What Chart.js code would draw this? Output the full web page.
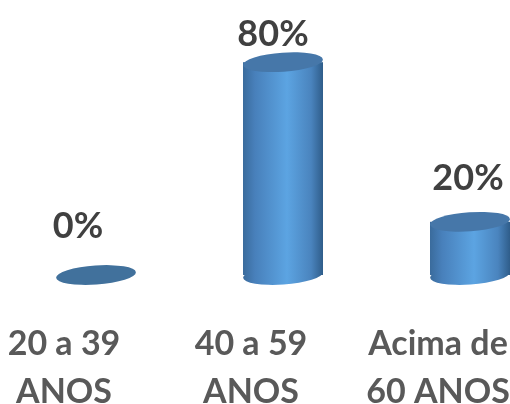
<!DOCTYPE html>
<html>
<head>
<meta charset="utf-8">
<script src="https://cdn.jsdelivr.net/npm/chart.js@4"></script>
<style>
  html, body { margin: 0; padding: 0; background: #fff; }
  #wrap { width: 510px; height: 404px; position: relative; }
</style>
</head>
<body>
<div id="wrap"><canvas id="c"></canvas></div>
<script>
const categories = [['20 a 39', 'ANOS'], ['40 a 59', 'ANOS'], ['Acima de', '60 ANOS']];
const values = [0, 80, 20];
const valueLabels = ['0%', '80%', '20%'];

const FONT = 'Lato';

// draws each bar as a 3D cylinder, plus the value above it
const cylinders = {
    id: 'cylinders',
    afterDatasetsDraw(chart) {
        const ctx = chart.ctx;
        const xs = chart.scales.x, ys = chart.scales.y;
        chart.getDatasetMeta(0).data.forEach((bar, i) => {
            const x = bar.x, top = bar.y, base = bar.base;
            const rx = bar.width / 2, ry = 9.5, tilt = -0.07;
            ctx.save();
            if (base - top > 1) {
                const g = ctx.createLinearGradient(x - rx, 0, x + rx, 0);
                g.addColorStop(0, '#3a6b9c');
                g.addColorStop(0.15, '#4880bb');
                g.addColorStop(0.55, '#5ca4e2');
                g.addColorStop(0.85, '#4a84be');
                g.addColorStop(1, '#2f5d8a');
                ctx.fillStyle = g;
                ctx.beginPath();
                ctx.ellipse(x, base, rx, ry, tilt, 0, Math.PI * 2);
                ctx.fill();
                ctx.fillRect(x - rx, top, rx * 2, base - top);
                ctx.fillStyle = '#4677a9';
            } else {
                ctx.fillStyle = '#41719c';
            }
            ctx.beginPath();
            ctx.ellipse(x, top, rx, ry, tilt, 0, Math.PI * 2);
            ctx.fill();

            // value label, shifted a little for the perspective
            const dx = -18 + 16 * (x - xs.left) / (xs.right - xs.left);
            ctx.fillStyle = '#404040';
            ctx.font = 'bold 36px ' + FONT;
            ctx.textAlign = 'center';
            ctx.textBaseline = 'alphabetic';
            ctx.fillText(valueLabels[i], x + dx, ys.getPixelForValue(values[i] * 0.9) - 37);
            ctx.restore();
        });
    }
};

new Chart(document.getElementById('c'), {
    type: 'bar',
    data: {
        labels: categories,
        datasets: [{
            data: values,
            backgroundColor: 'rgba(0,0,0,0)',
            barThickness: 80
        }]
    },
    options: {
        responsive: true,
        maintainAspectRatio: false,
        animation: false,
        layout: { padding: { top: 9, left: 96, right: 40, bottom: 0 } },
        plugins: {
            legend: { display: false },
            tooltip: { enabled: false }
        },
        scales: {
            x: {
                offset: false,
                grid: { display: false },
                border: { display: false },
                ticks: {
                    color: '#595959',
                    font: { family: FONT, size: 34, weight: 'bold', lineHeight: 48 / 34 },
                    padding: 37,
                    labelOffset: -32,
                    maxRotation: 0,
                    autoSkip: false
                },
                afterFit(scale) {
                    scale.height = 129;
                    scale.paddingLeft = 0;
                    scale.paddingRight = 0;
                }
            },
            y: {
                display: false,
                min: 0,
                max: 100
            }
        }
    },
    plugins: [cylinders]
});
</script>
</body>
</html>
